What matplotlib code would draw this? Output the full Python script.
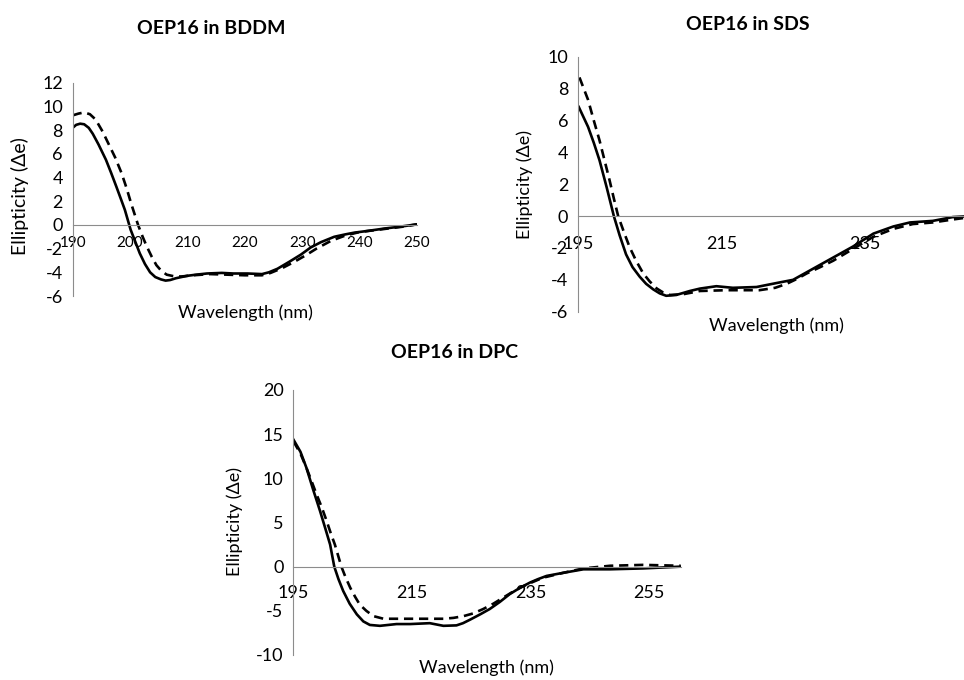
import matplotlib
matplotlib.use("Agg")
import matplotlib.pyplot as plt

plt.rcParams['font.family'] = ['Lato', 'DejaVu Sans']
plt.rcParams['axes.unicode_minus'] = False

# ---- OEP16 in BDDM ----
bddm_x_solid = [190, 190.6, 191.3, 192.0, 192.8, 193.5, 194.5, 195.8, 196.7, 197.6, 198.4, 199.1, 200.1, 200.9,
                201.7, 202.6, 203.5, 204.4, 205.4, 206.2, 207.0, 208.0, 209.9, 211.5, 213.4, 216.0, 218.0,
                220.5, 223.0, 224.2, 225.7, 227.8, 229.8, 231.5, 233.3, 235.6, 237.5, 239.1, 241.5, 244.4,
                247.0, 250.0]
bddm_y_solid = [8.2, 8.45, 8.55, 8.5, 8.2, 7.7, 6.8, 5.5, 4.4, 3.25, 2.2, 1.27, -0.4, -1.4,
                -2.4, -3.3, -4.0, -4.4, -4.6, -4.7, -4.65, -4.5, -4.3, -4.2, -4.1, -4.05, -4.1,
                -4.1, -4.15, -4.0, -3.7, -3.1, -2.5, -1.9, -1.45, -1.0, -0.8, -0.65, -0.5, -0.3,
                -0.15, 0.05]
bddm_x_dash = [190, 191, 192, 193, 194, 195.2, 196.4, 197.4, 198.5, 199.4, 200.2, 201.4, 202.2, 202.9,
               203.8, 204.6, 205.5, 206.4, 207.8, 209.0, 211.0, 214.0, 217.0, 220.0, 223.0, 224.5,
               226.5, 228.5, 230.5, 232.5, 235.0, 237.5, 240.0, 242.5, 245.0, 247.5, 250.0]
bddm_y_dash = [9.25, 9.4, 9.5, 9.35, 8.9, 7.9, 6.7, 5.7, 4.4, 3.1, 1.8, 0.0, -1.0, -1.8,
               -2.7, -3.4, -3.9, -4.2, -4.35, -4.35, -4.25, -4.15, -4.2, -4.25, -4.25, -4.05,
               -3.65, -3.15, -2.6, -2.0, -1.35, -0.9, -0.6, -0.45, -0.3, -0.15, 0.05]

# ---- OEP16 in SDS ----
sds_x_solid = [195.1, 196.4, 197.2, 198.0, 199.0, 200.0, 200.8, 201.7, 202.6, 203.6, 204.5, 205.5, 206.4,
               207.3, 208.7, 210.6, 212.0, 214.3, 216.6, 219.9, 222.7, 225.0, 226.4, 227.8, 230.6,
               233.4, 236.2, 239.0, 241.3, 244.5, 247.3, 250.0]
sds_y_solid = [6.85, 5.6, 4.6, 3.5, 1.8, 0.0, -1.2, -2.4, -3.2, -3.8, -4.25, -4.6, -4.85,
               -5.0, -4.95, -4.7, -4.55, -4.4, -4.5, -4.45, -4.2, -4.0, -3.65, -3.3, -2.6,
               -1.9, -1.1, -0.65, -0.4, -0.3, -0.06, 0.0]
sds_x_dash = [195.2, 195.8, 196.4, 197.2, 198.0, 198.7, 199.4, 200.0, 200.6, 201.4, 202.2, 203.1, 204.1,
              205.0, 206.0, 206.9, 207.8, 209.7, 212.0, 215.7, 220.3, 222.5, 224.1, 225.5, 226.9,
              228.8, 230.6, 233.4, 236.2, 239.0, 241.7, 244.5, 247.5, 250.0]
sds_y_dash = [8.7, 8.0, 7.3, 6.0, 4.75, 3.5, 2.25, 1.1, 0.0, -1.0, -1.95, -2.8, -3.6,
              -4.1, -4.55, -4.8, -4.95, -4.9, -4.7, -4.65, -4.65, -4.5, -4.25, -3.95, -3.6,
              -3.2, -2.8, -2.05, -1.3, -0.8, -0.5, -0.4, -0.2, -0.05]

# ---- OEP16 in DPC ----
dpc_x_solid = [195.0, 196.2, 197.2, 198.3, 199.5, 200.4, 201.2, 201.9, 202.6, 203.4, 204.5, 205.7, 206.8,
               207.9, 209.6, 212.4, 214.7, 218.0, 220.3, 222.5, 223.6, 224.8, 226.5, 228.1, 229.8,
               231.5, 233.2, 234.9, 236.3, 237.7, 240.5, 243.9, 248.4, 254.0, 260.3]
dpc_y_solid = [14.4, 13.0, 11.2, 8.8, 6.3, 4.3, 2.5, 0.0, -1.4, -2.75, -4.2, -5.4, -6.2,
               -6.6, -6.7, -6.5, -6.5, -6.4, -6.7, -6.65, -6.4, -6.0, -5.4, -4.8, -4.0,
               -3.1, -2.4, -1.8, -1.4, -1.05, -0.7, -0.3, -0.3, -0.2, 0.0]
dpc_x_dash = [195.0, 196.2, 197.2, 198.0, 198.9, 199.8, 200.6, 201.3, 202.0, 203.1, 203.8, 204.6, 205.4,
              206.2, 207.3, 208.5, 210.2, 214.7, 220.3, 222.0, 223.7, 225.3, 227.0, 228.7, 230.4,
              232.1, 233.8, 235.5, 237.1, 240.5, 243.9, 248.4, 254.0, 260.3]
dpc_y_dash = [14.2, 12.8, 11.2, 9.8, 8.2, 6.7, 5.2, 3.8, 2.5, 0.0, -1.2, -2.4, -3.4,
              -4.3, -5.0, -5.6, -5.9, -5.9, -5.9, -5.8, -5.6, -5.3, -4.8, -4.2, -3.5,
              -2.8, -2.2, -1.7, -1.25, -0.7, -0.2, 0.1, 0.2, 0.1]

panels = [
    dict(title="OEP16 in BDDM", rect=[0.0754, 0.5647, 0.357, 0.3135],
         xlim=(190, 250), ylim=(-6, 12), xticks=[190, 200, 210, 220, 230, 240, 250],
         yticks=list(range(-6, 13, 2)), xs=bddm_x_solid, ys=bddm_y_solid,
         xd=bddm_x_dash, yd=bddm_y_dash, xfs=11, yfs=13, pad=8, ylfs=14,
         title_xy=(211, 28), xlab_xy=(245, 313), ylab_xy=(20, 196)),
    dict(title="OEP16 in SDS", rect=[0.5996, 0.5416, 0.409, 0.375],
         xlim=(195, 250), ylim=(-6, 10), xticks=[195, 215, 235],
         yticks=list(range(-6, 11, 2)), xs=sds_x_solid, ys=sds_y_solid,
         xd=sds_x_dash, yd=sds_y_dash, xfs=13, yfs=13, pad=14, ylfs=13,
         title_xy=(748, 25), xlab_xy=(776, 326), ylab_xy=(525, 185)),
    dict(title="OEP16 in DPC", rect=[0.3043, 0.0368, 0.4018, 0.3897],
         xlim=(195, 260.3), ylim=(-10, 20), xticks=[195, 215, 235, 255],
         yticks=list(range(-10, 21, 5)), xs=dpc_x_solid, ys=dpc_y_solid,
         xd=dpc_x_dash, yd=dpc_y_dash, xfs=13, yfs=13, pad=13, ylfs=13,
         title_xy=(455, 352), xlab_xy=(486, 668), ylab_xy=(235, 522)),
]

W, H = 964, 680
fig = plt.figure(figsize=(W / 100, H / 100), dpi=100)
axis_grey = "#8c8c8c"

for p in panels:
    ax = fig.add_axes(p["rect"])
    ax.plot(p["xs"], p["ys"], color="black", lw=1.9, solid_joinstyle="round")
    ax.plot(p["xd"], p["yd"], color="black", lw=1.9, linestyle=(0, (3.5, 2.2)))
    ax.set_xlim(*p["xlim"])
    ax.set_ylim(*p["ylim"])
    ax.set_xticks(p["xticks"])
    ax.set_yticks(p["yticks"])
    for s in ["top", "right"]:
        ax.spines[s].set_visible(False)
    ax.spines["left"].set_color(axis_grey)
    ax.spines["bottom"].set_color(axis_grey)
    ax.spines["bottom"].set_position(("data", 0))
    ax.tick_params(axis="both", length=0, colors="black")
    ax.tick_params(axis="x", pad=p["pad"], labelsize=p["xfs"])
    ax.tick_params(axis="y", pad=7, labelsize=p["yfs"])
    ax.patch.set_visible(False)
    tx, ty = p["title_xy"]
    fig.text(tx / W, 1 - ty / H, p["title"], ha="center", va="center",
             fontsize=14, fontweight="bold")
    lx, ly = p["xlab_xy"]
    fig.text(lx / W, 1 - ly / H, "Wavelength (nm)", ha="center", va="center", fontsize=13)
    yx, yy = p["ylab_xy"]
    fig.text(yx / W, 1 - yy / H, "Ellipticity (\u0394e)", ha="center", va="center",
             rotation=90, fontsize=p["ylfs"])

fig.savefig("out.png", dpi=100)
